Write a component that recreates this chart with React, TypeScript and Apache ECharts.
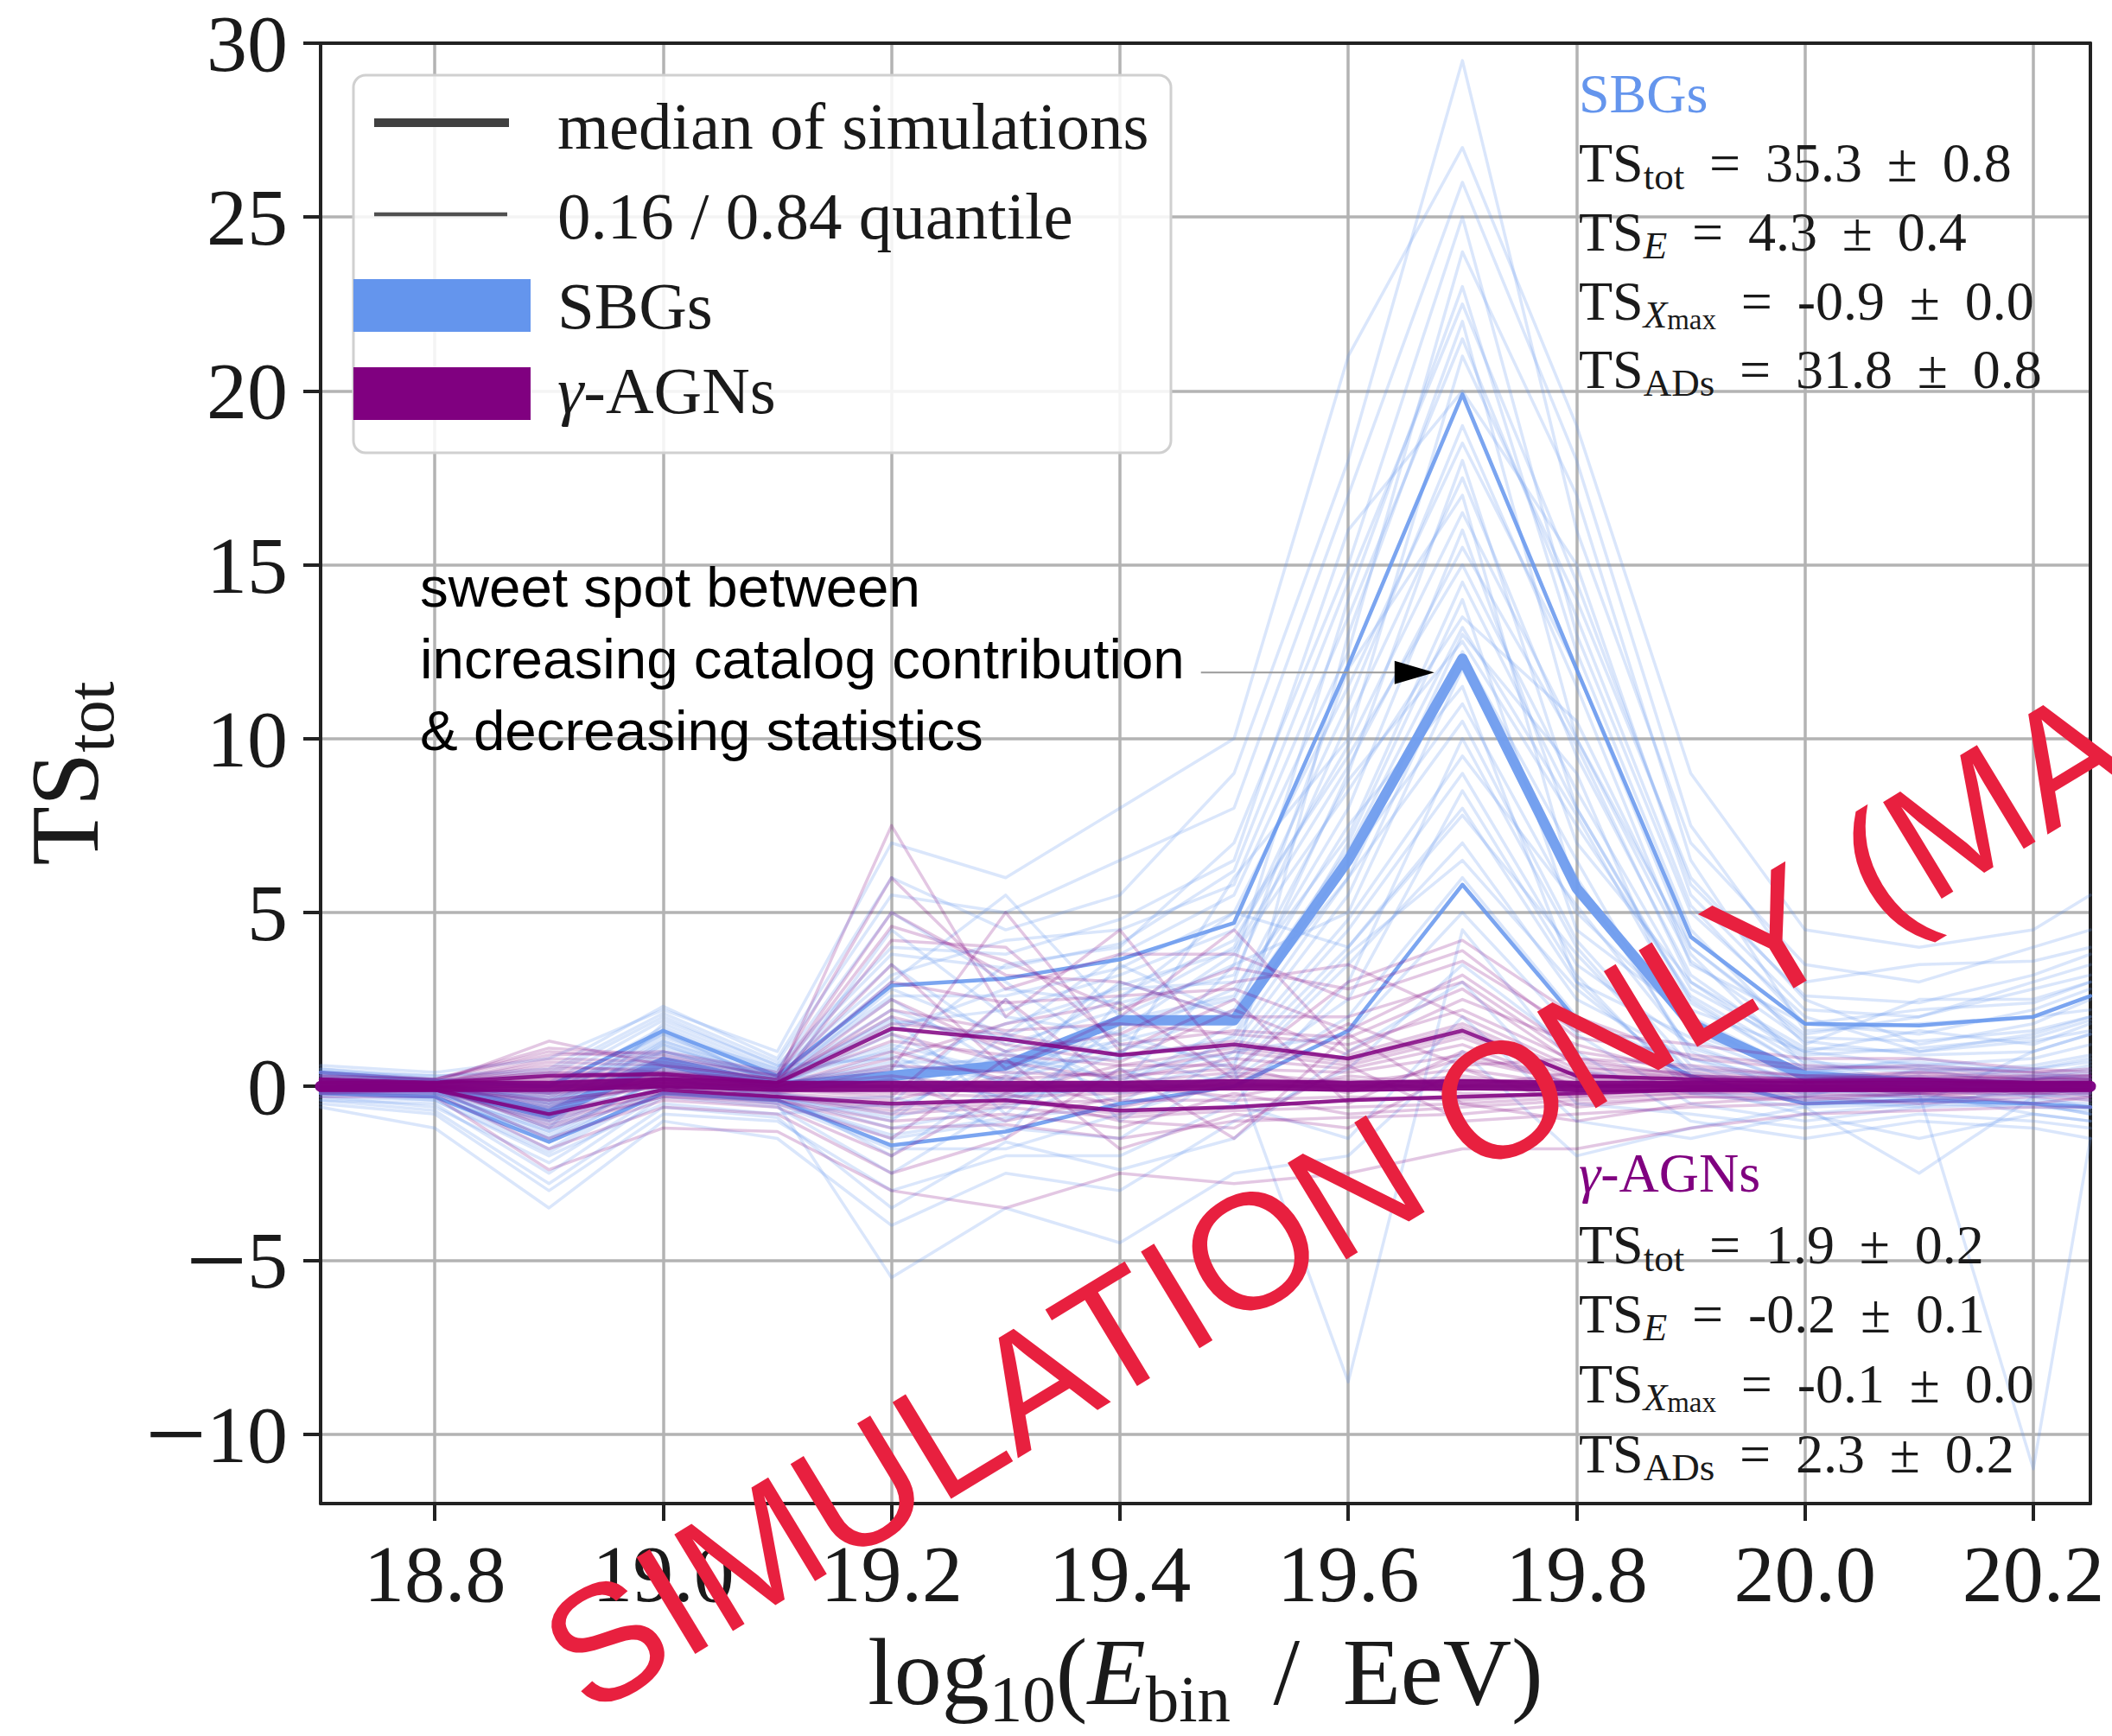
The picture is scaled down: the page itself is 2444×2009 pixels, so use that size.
import React, { useEffect, useRef } from 'react';
import * as echarts from 'echarts';

// ---------------- data ----------------
const xBins = [18.7, 18.8, 18.9, 19.0, 19.1, 19.2, 19.3, 19.4, 19.5, 19.6, 19.7, 19.8, 19.9, 20.0, 20.1, 20.2, 20.25];
const xTickValues = [18.8, 19.0, 19.2, 19.4, 19.6, 19.8, 20.0, 20.2];
const yTickValues = [-10, -5, 0, 5, 10, 15, 20, 25, 30];

const sbgMedian = [0.0, 0.0, -0.8, 0.7, 0.0, 0.3, 0.6, 1.9, 1.9, 6.5, 12.3, 5.7, 1.8, 0.3, 0.1, 0.0, 0.0];
const sbgQ84 = [0.4, 0.15, 0.0, 1.6, 0.3, 2.9, 3.1, 3.65, 4.7, 12.1, 19.9, 12.0, 4.3, 1.8, 1.75, 2.0, 2.6];
const sbgQ16 = [-0.2, -0.3, -1.6, -0.2, -0.4, -1.7, -1.3, -0.5, 0.0, 1.6, 5.8, 1.9, 0.3, -0.5, -0.4, -0.5, -0.6];

const agnMedian = [0.0, 0.0, 0.0, 0.1, 0.0, 0.0, 0.0, 0.0, 0.05, 0.0, 0.05, 0.0, 0.0, 0.0, 0.0, 0.0, 0.0];
const agnQ84 = [0.2, 0.1, 0.3, 0.35, 0.1, 1.66, 1.35, 0.9, 1.2, 0.8, 1.6, 0.3, 0.2, 0.15, 0.2, 0.1, 0.1];
const agnQ16 = [-0.1, -0.1, -0.8, -0.1, -0.3, -0.5, -0.4, -0.7, -0.6, -0.4, -0.3, -0.2, -0.1, -0.1, -0.1, -0.1, -0.1];

const sbgSims = [
  [0.3, 0.1, -0.8, 1.0, 0.2, 2.5, 0.5, 3.0, 2.0, 9.0, 18.0, 8.0, 2.5, 0.5, 0.2, 0.5, 0.8],
  [-0.2, -0.1, -1.5, 0.3, -0.3, -1.0, 1.5, 0.0, 3.5, 5.0, 12.0, 6.0, 1.0, -0.3, 0.5, 0.0, -0.2],
  [0.1, 0.0, -0.4, 1.6, 0.0, 4.5, 2.0, 1.5, 0.5, 13.0, 22.0, 10.0, 4.0, 1.5, 2.0, 3.0, 3.5],
  [0.5, 0.2, 0.3, 2.0, 0.6, 0.8, -1.5, 2.5, 5.0, 4.0, 8.0, 3.0, 0.0, -0.8, -0.5, 1.0, 1.5],
  [-0.4, -0.5, -2.5, -0.3, -0.6, -2.5, -0.5, 1.0, 0.0, 2.0, 6.0, 2.0, 0.5, 0.2, -0.3, -0.5, -0.8],
  [0.2, 0.1, -0.2, 0.8, 0.3, 1.0, 3.5, 4.0, 7.0, 15.0, 25.0, 13.0, 5.0, 2.0, 1.0, 1.5, 2.0],
  [0.0, -0.2, -1.0, 0.5, -0.1, 0.0, 0.8, -0.5, 1.5, 7.0, 14.0, 4.5, 2.0, 0.0, 0.3, -0.3, 0.0],
  [-0.6, -1.2, -3.5, -1.0, -1.5, -4.0, -2.5, -3.0, -1.0, 0.5, 3.5, 1.0, -1.0, -1.5, -1.0, -1.2, -1.5],
  [0.4, 0.3, 0.5, 2.3, 0.8, 6.0, 4.5, 5.5, 9.0, 18.0, 29.5, 16.0, 7.0, 3.5, 3.0, 4.0, 4.5],
  [0.1, 0.0, -0.6, 1.2, 0.1, 2.0, -0.8, 1.8, 2.5, 8.0, 16.0, 7.0, 3.0, 0.8, 0.0, 0.2, 0.5],
  [-0.1, -0.3, -1.8, 0.0, -0.4, -1.5, -1.0, 0.5, -0.5, 3.0, 10.0, 4.0, 0.3, -0.5, -0.2, -0.8, -1.0],
  [0.2, 0.0, -0.3, 1.4, 0.4, 3.5, 1.2, 2.2, 4.0, 11.0, 19.0, 11.5, 3.5, 1.8, 1.5, 2.2, 2.8],
  [-0.3, -0.4, -2.0, -0.5, -0.8, -0.5, 2.5, -1.0, 1.0, 1.5, 5.0, 1.5, -0.5, -1.0, -0.6, 0.0, -0.3],
  [0.0, 0.1, -0.5, 0.7, 0.0, 1.5, 0.0, 3.5, 2.0, 6.0, 13.0, 9.0, 1.5, 0.4, 0.8, 0.4, 0.2],
  [0.3, 0.0, -1.2, 1.8, 0.5, 5.0, 3.0, 0.8, 6.0, 10.0, 21.0, 14.0, 6.0, 2.5, 1.2, 1.8, 2.5],
  [-0.2, -0.2, -1.3, 0.2, -0.2, -2.0, 0.3, 1.2, 0.8, 4.5, 9.0, 3.5, 1.2, 0.0, -0.4, -0.2, -0.4],
  [0.1, 0.2, 0.0, 1.0, 0.2, 0.5, 1.8, 2.8, 3.0, 12.0, 17.0, 5.5, 2.2, 1.0, 0.6, 0.8, 1.2],
  [-0.5, -0.8, -3.0, -0.8, -1.0, -3.0, -2.0, -2.0, -0.5, -1.5, 2.0, -1.0, -1.5, -0.8, -1.5, -0.8, -1.0],
  [0.2, 0.1, -0.7, 1.3, 0.3, 3.0, 5.5, 2.0, 3.5, 14.0, 23.0, 12.5, 4.5, 1.2, 2.5, 2.5, 3.0],
  [0.0, -0.1, -0.9, 0.6, 0.0, 0.2, -0.3, 0.0, 1.8, 6.5, 11.0, 5.0, 1.8, 0.3, 0.1, -0.1, 0.0],
  [0.6, 0.4, 0.8, 2.2, 1.0, 7.0, 6.0, 8.0, 10.0, 21.0, 27.0, 19.0, 9.0, 4.5, 4.0, 4.5, 5.5],
  [-0.1, 0.0, -1.1, 0.4, -0.2, -0.8, 1.0, -0.2, 0.3, 3.5, 7.0, 2.5, 0.8, 0.1, 0.2, -0.2, -0.1],
  [0.2, 0.0, -0.2, 1.5, 0.1, 1.8, 2.2, 3.2, 4.5, 9.5, 15.0, 8.5, 2.8, 1.0, 1.6, 1.2, 1.8],
  [-0.3, -0.6, -2.2, -0.2, -0.5, -5.5, -3.5, -4.5, -2.5, -2.0, 1.0, -2.0, -1.2, -0.6, -2.5, -0.3, -0.6],
  [0.1, 0.0, -0.6, 0.9, 0.2, 1.2, 0.4, 1.6, 3.8, 8.5, 13.5, 10.5, 3.8, 0.6, 0.4, 0.6, 0.9],
  [0.0, -0.1, -1.6, 0.1, -0.3, -1.2, -0.6, 0.3, 1.2, 5.5, 12.5, 6.5, 0.8, -0.2, 0.0, 0.2, 0.3],
  [0.4, 0.2, 0.1, 1.9, 0.6, 4.0, 3.8, 4.8, 6.5, 16.0, 20.0, 15.0, 5.5, 2.2, 2.0, 2.8, 3.2],
  [-0.2, -0.3, -1.4, 0.3, -0.4, -0.3, -1.2, -1.5, 0.5, -8.5, 4.5, 0.5, -0.2, -0.3, -0.2, -11.0, -1.5],
  [0.0, 0.1, -0.4, 0.8, 0.1, 2.8, 1.5, 3.8, 5.5, 12.5, 24.0, 17.0, 6.5, 1.6, 1.8, 2.0, 2.2],
  [-0.1, -0.2, -0.8, 0.6, -0.1, 0.6, 0.2, 1.0, 2.2, 7.5, 11.5, 3.0, 1.4, 0.2, -0.1, 0.3, 0.1],
  [0.2, 0.1, -0.5, 1.1, 0.3, 1.6, 2.8, 2.4, 3.2, 10.5, 17.5, 9.5, 3.2, 0.9, 1.1, 1.4, 1.9],
  [-0.1, -0.2, -1.2, 0.4, -0.2, -0.6, 0.6, 0.8, 1.4, 6.0, 10.5, 4.2, 0.6, -0.4, -0.3, -0.4, -0.5],
  [0.3, 0.2, -0.1, 1.7, 0.4, 3.2, 4.2, 4.5, 5.8, 13.5, 21.5, 13.5, 5.2, 1.8, 2.2, 2.4, 3.0],
  [0.0, -0.1, -0.9, 0.7, 0.0, 0.9, -0.4, 1.4, 2.8, 7.2, 14.5, 8.0, 2.4, 0.5, 0.7, 0.3, 0.6],
  [-0.2, -0.4, -1.9, -0.1, -0.5, -1.8, -1.8, -0.8, 0.2, 2.5, 8.5, 3.2, -0.2, -0.6, -0.5, -0.6, -0.7],
  [0.1, 0.0, -0.3, 1.3, 0.2, 2.2, 1.0, 2.6, 4.2, 9.8, 16.5, 10.0, 3.6, 1.3, 0.9, 1.0, 1.5],
  [0.5, 0.3, 0.4, 2.1, 0.7, 5.5, 5.0, 6.5, 8.0, 17.0, 26.0, 18.0, 7.5, 3.0, 3.5, 3.6, 4.0],
  [0.0, 0.0, -0.7, 0.5, -0.1, 0.4, 0.9, 0.2, 1.0, 4.8, 9.5, 5.2, 1.1, 0.1, 0.0, 0.1, 0.2],
  [-0.4, -0.7, -2.8, -0.6, -0.9, -3.5, -1.6, -2.4, -1.5, 1.0, 3.0, -0.5, -0.8, -1.2, -0.8, -1.0, -1.2],
  [0.2, 0.1, -0.4, 1.0, 0.3, 2.6, 2.6, 3.4, 5.0, 11.5, 18.5, 12.0, 4.0, 1.4, 1.3, 1.6, 2.0],
  [0.1, 0.0, -1.0, 0.8, 0.1, 1.1, 0.1, 1.9, 2.6, 8.8, 12.8, 7.5, 2.6, 0.7, 0.5, 0.5, 0.7],
  [-0.1, -0.2, -1.3, 0.2, -0.3, -0.9, -0.2, -0.1, 0.7, 4.0, 7.8, 3.8, 0.4, -0.2, -0.1, -0.3, -0.2],
  [0.3, 0.1, -0.2, 1.5, 0.5, 3.8, 3.4, 4.1, 6.2, 14.5, 22.5, 14.5, 5.8, 2.6, 2.4, 3.2, 3.8],
  [0.0, -0.1, -0.6, 0.6, 0.0, 0.7, 0.7, 1.3, 2.1, 6.8, 13.2, 7.8, 2.0, 0.4, 0.6, 0.2, 0.4],
  [0.2, 0.0, -0.5, 1.2, 0.2, 1.9, 1.4, 2.9, 3.9, 9.2, 15.5, 9.8, 3.0, 1.1, 1.0, 1.3, 1.6],
  [-0.2, -0.3, -1.5, 0.0, -0.4, -1.4, -0.9, -0.6, 0.4, 3.8, 6.5, 2.8, 0.2, -0.4, -0.6, -0.5, -0.8],
];

const agnSims = [
  [0.1, 0.0, 0.3, 0.3, 0.1, 1.8, 1.5, 0.9, 1.3, 0.8, 1.7, 0.3, 0.2, 0.1, 0.2, 0.1, 0.1],
  [-0.1, -0.1, -0.8, -0.1, -0.3, -0.6, -0.4, -0.8, -0.6, -0.4, -0.3, -0.2, -0.1, -0.1, -0.1, -0.1, -0.1],
  [0.2, 0.1, 1.3, 0.6, 0.2, 7.5, 2.0, 4.5, 0.5, 3.0, 4.2, 2.0, 0.8, 0.5, 0.6, 0.4, 0.5],
  [0.0, 0.0, -0.3, 0.2, -0.1, 0.5, 5.0, 1.0, 2.5, -0.5, 1.0, 0.0, 0.1, 0.0, -0.2, 0.0, 0.0],
  [-0.2, -0.2, -1.8, -0.6, -0.8, -2.5, -1.5, 0.5, -1.5, 1.5, -0.5, -1.0, -0.5, -0.3, -0.5, -0.3, -0.4],
  [0.1, 0.1, 0.6, 0.4, 0.2, 3.5, 0.5, 2.0, 4.5, 1.0, 2.5, 1.2, 0.3, 0.2, 0.4, 0.2, 0.3],
  [0.0, -0.1, -0.4, 0.0, -0.2, 0.2, -1.0, -0.3, 0.3, 0.0, 0.3, -0.1, 0.0, -0.1, 0.0, -0.2, -0.1],
  [0.3, 0.2, 1.0, 0.8, 0.3, 5.0, 3.2, 3.0, 2.0, 2.0, 3.0, 0.8, 0.6, 0.3, 0.2, 0.3, 0.2],
  [-0.1, 0.0, -1.2, -0.3, -0.5, -1.5, 0.8, -1.8, -0.8, -1.2, 0.5, -0.6, -0.3, -0.4, -0.2, -0.5, -0.3],
  [0.1, 0.0, 0.1, 0.3, 0.0, 1.0, 0.2, 0.4, 1.0, 0.6, 1.4, 0.2, 0.1, 0.1, 0.1, 0.0, 0.1],
  [0.0, 0.0, -0.6, 0.1, -0.1, -0.3, 2.5, 0.0, -0.3, 0.3, 0.0, 0.4, 0.0, 0.0, 0.0, 0.1, 0.0],
  [-0.3, -0.3, -2.4, -1.2, -1.3, -3.0, -3.5, -2.5, -2.8, -2.5, -1.8, -1.8, -1.2, -0.8, -0.7, -0.6, -0.6],
  [0.2, 0.1, 0.5, 0.5, 0.1, 2.5, 1.0, 1.5, 3.0, 3.5, 2.0, 0.5, 0.4, 0.2, 0.3, 0.2, 0.2],
  [0.0, 0.0, -0.2, 0.2, 0.0, 0.0, -0.2, 0.6, 0.6, -0.2, 0.8, 0.1, 0.0, 0.0, 0.0, 0.0, 0.0],
  [-0.1, -0.1, -1.0, -0.2, -0.4, -1.0, -0.8, -1.2, -0.2, -0.8, -0.6, -0.4, -0.2, -0.2, -0.3, -0.1, -0.2],
  [0.1, 0.1, 0.2, 0.4, 0.1, 4.2, 4.0, 1.2, 1.6, 1.4, 2.8, 0.6, 0.2, 0.1, 0.2, 0.1, 0.1],
  [0.0, 0.0, -0.5, 0.0, -0.2, -0.4, 0.3, -0.6, 0.0, 0.2, -0.2, -0.3, 0.0, 0.0, -0.1, 0.0, -0.1],
  [0.4, 0.2, 0.9, 1.0, 0.4, 6.0, 2.8, 3.8, 3.8, 2.5, 3.6, 1.6, 1.2, 0.8, 0.8, 0.5, 0.4],
  [-0.2, -0.1, -1.5, -0.4, -0.6, -2.0, -0.2, -1.0, -1.2, 0.6, -1.0, -0.8, -0.6, -0.5, -0.4, -0.2, -0.3],
  [0.1, 0.0, 0.0, 0.2, 0.1, 1.5, 0.7, 0.2, 0.8, 0.5, 1.2, 0.0, 0.1, 0.0, 0.1, 0.1, 0.0],
  [0.0, 0.1, 0.4, 0.3, 0.0, 0.8, 1.8, 2.4, 0.2, 1.8, 0.6, 0.8, 0.3, 0.1, 0.2, 0.0, 0.1],
  [-0.1, -0.1, -0.7, -0.1, -0.3, -0.7, -0.5, -0.4, -0.4, -0.3, -0.4, -0.2, -0.1, -0.1, -0.1, -0.1, -0.1],
  [0.2, 0.1, 0.7, 0.6, 0.2, 2.0, 1.2, 0.7, 2.2, 0.9, 1.8, 0.4, 0.3, 0.2, 0.3, 0.2, 0.2],
  [0.0, 0.0, -0.1, 0.1, 0.0, 0.3, -0.1, 0.1, 0.4, 0.1, 0.5, 0.0, 0.0, 0.0, 0.0, 0.0, 0.0],
  [0.1, 0.1, 0.4, 0.4, 0.1, 2.2, 1.6, 1.8, 1.5, 1.2, 2.2, 0.7, 0.3, 0.2, 0.2, 0.2, 0.2],
  [-0.1, 0.0, -0.9, -0.2, -0.3, -0.8, -0.6, -0.9, -0.7, -0.6, -0.5, -0.3, -0.2, -0.1, -0.2, -0.1, -0.1],
  [0.2, 0.1, 0.8, 0.7, 0.2, 3.0, 2.4, 2.6, 2.8, 1.6, 3.2, 1.0, 0.5, 0.3, 0.4, 0.3, 0.3],
  [0.0, 0.0, -0.2, 0.1, 0.0, 0.6, 0.4, 0.3, 0.5, 0.4, 0.9, 0.2, 0.1, 0.0, 0.1, 0.0, 0.0],
  [-0.1, -0.1, -1.1, -0.3, -0.4, -1.2, -1.1, -1.5, -1.0, -0.9, -0.8, -0.5, -0.3, -0.3, -0.2, -0.2, -0.2],
  [0.1, 0.0, 0.2, 0.3, 0.1, 1.3, 0.9, 0.6, 1.1, 0.7, 1.5, 0.3, 0.2, 0.1, 0.1, 0.1, 0.1],
  [0.3, 0.2, 1.1, 0.9, 0.3, 4.6, 3.6, 2.2, 3.4, 2.8, 3.9, 1.4, 0.9, 0.6, 0.5, 0.4, 0.3],
  [0.0, 0.0, -0.4, 0.0, -0.1, -0.2, -0.3, -0.2, 0.1, -0.1, 0.2, 0.0, 0.0, 0.0, 0.0, 0.0, 0.0],
];

// annotation arrow (data coordinates)
const arrowStart = [19.471, 11.9];
const arrowHead = [19.658, 11.9];

const annotationLines = ['sweet spot between', 'increasing catalog contribution', '& decreasing statistics'];
const legendLabels = ['median of simulations', '0.16 / 0.84 quantile', 'SBGs', 'γ-AGNs'];

// stats rows: [subscript token, value, error]
const sbgStats = [
  ['tot', '35.3', '0.8'],
  ['E', '4.3', '0.4'],
  ['Xmax', '-0.9', '0.0'],
  ['ADs', '31.8', '0.8'],
];
const agnStats = [
  ['tot', '1.9', '0.2'],
  ['E', '-0.2', '0.1'],
  ['Xmax', '-0.1', '0.0'],
  ['ADs', '2.3', '0.2'],
];

const watermark = 'SIMULATION ONLY (MA';

// ---------------- styling ----------------
const W = 2444;
const H = 2009;
const SBG = '#6495ED';
const AGN = '#800080';
const SERIF = 'Liberation Serif';
const SANS = 'Liberation Sans';
const INK = '#1a1a1a';
const GAP = ' \u2009';

const pts = (arr: number[]) => xBins.map((x, i) => [x, arr[i]]);

function lineSeries(name: string, arr: number[], color: string, width: number, opacity: number, z: number) {
  return {
    type: 'line',
    name,
    data: pts(arr),
    symbol: 'none',
    silent: true,
    animation: false,
    z,
    emphasis: { disabled: true },
    lineStyle: { color, width, opacity, cap: 'round', join: 'round' },
  };
}

// rich styles for graphic text (zrender style -> "fill")
function statRich(color: string) {
  return {
    m: { fontFamily: SERIF, fontSize: 64, lineHeight: 70, verticalAlign: 'top', fill: color },
    s: { fontFamily: SERIF, fontSize: 45, lineHeight: 44, verticalAlign: 'bottom', fill: color },
    si: { fontFamily: SERIF, fontSize: 45, lineHeight: 44, verticalAlign: 'bottom', fontStyle: 'italic', fill: color },
    ss: { fontFamily: SERIF, fontSize: 33, lineHeight: 20, verticalAlign: 'bottom', fill: color },
    mi: { fontFamily: SERIF, fontSize: 64, lineHeight: 70, verticalAlign: 'top', fontStyle: 'italic', fill: color },
  };
}

function statText(row: string[]) {
  const [sub, v, e] = row;
  let subPart = '';
  if (sub === 'E') subPart = '{si|E}';
  else if (sub === 'Xmax') subPart = '{si|X}{ss|max}';
  else subPart = `{s|${sub}}`;
  return `{m|TS}${subPart}{m|${GAP}=${GAP}${v}${GAP}±${GAP}${e}}`;
}

function statBlock(title: string, rows: string[][], color: string, topCenter: number, rowCenters: number[]) {
  const x = 1827;
  const els: any[] = [];
  els.push({
    type: 'text',
    x,
    y: topCenter - 35,
    z: 50,
    style: { text: title, rich: statRich(color), align: 'left', verticalAlign: 'top' },
  });
  rows.forEach((r, i) => {
    els.push({
      type: 'text',
      x,
      y: rowCenters[i] - 35,
      z: 50,
      style: { text: statText(r), rich: statRich(INK), align: 'left', verticalAlign: 'top' },
    });
  });
  return els;
}

export default function App() {
  const ref = useRef<HTMLDivElement>(null);

  useEffect(() => {
    if (!ref.current) return;
    const chart = echarts.init(ref.current, null, { renderer: 'svg', width: W, height: H });

    const series: any[] = [];
    sbgSims.forEach((s, i) => series.push(lineSeries('SBG sim ' + (i + 1), s, SBG, 3.5, 0.24, 2)));
    series.push(lineSeries('SBG 0.16 quantile', sbgQ16, SBG, 4.5, 0.85, 3));
    series.push(lineSeries('SBG 0.84 quantile', sbgQ84, SBG, 4.5, 0.85, 3));
    series.push(lineSeries('SBG median', sbgMedian, '#6f9cee', 12, 0.95, 3));
    agnSims.forEach((s, i) => series.push(lineSeries('γ-AGN sim ' + (i + 1), s, AGN, 3.5, 0.22, 4)));
    series.push(lineSeries('γ-AGN 0.16 quantile', agnQ16, AGN, 4.5, 0.85, 5));
    series.push(lineSeries('γ-AGN 0.84 quantile', agnQ84, AGN, 4.5, 0.85, 5));
    series.push(lineSeries('γ-AGN median', agnMedian, AGN, 13, 0.95, 5));
    series.push({
      type: 'line',
      name: 'annotation arrow',
      silent: true,
      z: 20,
      emphasis: { disabled: true },
      lineStyle: { color: '#9a9a9a', width: 2 },
      symbol: 'none',
      showSymbol: true,
      data: [
        { value: arrowStart, symbol: 'none' },
        {
          value: arrowHead,
          symbol: 'triangle',
          symbolRotate: -90,
          symbolSize: [27, 46],
          itemStyle: { color: '#000' },
        },
      ],
    });

    const yFmt = (v: number) => (v < 0 ? `{mn|\u2212}{n|${Math.abs(v)}}` : `{n|${v}}`);

    const legendTextStyle = { fontFamily: SERIF, fontSize: 77, fill: INK, align: 'left', verticalAlign: 'middle' };

    const graphic: any[] = [
      // legend
      {
        type: 'rect',
        z: 40,
        shape: { x: 409, y: 87, width: 946, height: 437, r: 14 },
        style: { fill: 'rgba(255,255,255,0.85)', stroke: '#d0d0d0', lineWidth: 3 },
      },
      { type: 'line', z: 41, shape: { x1: 433, y1: 142, x2: 589, y2: 142 }, style: { stroke: '#404040', lineWidth: 10 } },
      { type: 'line', z: 41, shape: { x1: 433, y1: 248, x2: 587, y2: 248 }, style: { stroke: '#505050', lineWidth: 4.5 } },
      { type: 'rect', z: 41, shape: { x: 409, y: 323, width: 205, height: 61 }, style: { fill: SBG } },
      { type: 'rect', z: 41, shape: { x: 409, y: 425, width: 205, height: 61 }, style: { fill: AGN } },
      { type: 'text', z: 42, x: 645, y: 146, style: { ...legendTextStyle, text: legendLabels[0] } },
      { type: 'text', z: 42, x: 645, y: 250, style: { ...legendTextStyle, text: legendLabels[1] } },
      { type: 'text', z: 42, x: 645, y: 354, style: { ...legendTextStyle, text: legendLabels[2] } },
      {
        type: 'text',
        z: 42,
        x: 645,
        y: 452,
        style: {
          text: '{i|γ}{r|-AGNs}',
          align: 'left',
          verticalAlign: 'middle',
          rich: {
            i: { fontFamily: SERIF, fontSize: 77, fontStyle: 'italic', fill: INK },
            r: { fontFamily: SERIF, fontSize: 77, fill: INK },
          },
        },
      },
      // annotation text
      {
        type: 'text',
        z: 30,
        x: 486,
        y: 638,
        style: {
          text: annotationLines.join('\n'),
          fontFamily: SANS,
          fontSize: 65.5,
          lineHeight: 83,
          fill: '#000',
          align: 'left',
          verticalAlign: 'top',
        },
      },
      ...statBlock('{m|SBGs}', sbgStats, SBG, 111, [191, 271, 351, 430]),
      ...statBlock('{mi|γ}{m|-AGNs}', agnStats, AGN, 1360, [1443, 1523, 1604, 1685]),
      // watermark
      {
        type: 'text',
        z: 100,
        x: 1545,
        y: 1388,
        rotation: 0.545,
        style: {
          text: watermark,
          fontFamily: SANS,
          fontSize: 190,
          fill: '#e8203f',
          align: 'center',
          verticalAlign: 'middle',
        },
      },
    ];

    const axisLineStyle = { color: '#222', width: 4 };

    const option: any = {
      animation: false,
      backgroundColor: '#ffffff',
      grid: { left: 371, top: 50, width: 2048, height: 1693, containLabel: false },
      xAxis: [
        {
          type: 'value',
          min: 18.7,
          max: 20.25,
          position: 'bottom',
          name: `{a|log}{s|10}{a|(}{i|E}{s|bin}{a|${GAP}/${GAP}EeV)}`,
          nameLocation: 'middle',
          nameGap: 140,
          nameTextStyle: {
            rich: {
              a: { fontFamily: SERIF, fontSize: 110, lineHeight: 124, verticalAlign: 'top', color: INK },
              i: { fontFamily: SERIF, fontSize: 110, lineHeight: 124, verticalAlign: 'top', fontStyle: 'italic', color: INK },
              s: { fontFamily: SERIF, fontSize: 77, lineHeight: 73, verticalAlign: 'bottom', color: INK },
            },
          },
          axisLine: { show: true, onZero: false, lineStyle: axisLineStyle },
          axisTick: { show: true, inside: false, length: 20, lineStyle: { color: '#222', width: 4 }, customValues: xTickValues },
          axisLabel: {
            show: true,
            margin: 34,
            fontFamily: SERIF,
            fontSize: 94,
            color: INK,
            customValues: xTickValues,
            formatter: (v: number) => v.toFixed(1),
          },
          splitLine: { show: true, lineStyle: { color: '#b3b3b3', width: 3.5 } },
        },
        {
          type: 'value',
          min: 18.7,
          max: 20.25,
          position: 'top',
          axisLine: { show: true, onZero: false, lineStyle: axisLineStyle },
          axisTick: { show: false },
          axisLabel: { show: false },
          splitLine: { show: false },
        },
      ],
      yAxis: [
        {
          type: 'value',
          min: -12,
          max: 30,
          position: 'left',
          name: '{a|TS}{s|tot}',
          nameLocation: 'middle',
          nameGap: 228,
          nameTextStyle: {
            rich: {
              a: { fontFamily: SERIF, fontSize: 112, lineHeight: 124, verticalAlign: 'top', color: INK },
              s: { fontFamily: SERIF, fontSize: 78, lineHeight: 73, verticalAlign: 'bottom', color: INK },
            },
          },
          axisLine: { show: true, onZero: false, lineStyle: axisLineStyle },
          axisTick: { show: true, inside: false, length: 20, lineStyle: { color: '#222', width: 4 }, customValues: yTickValues },
          axisLabel: {
            show: true,
            margin: 38,
            color: INK,
            customValues: yTickValues,
            formatter: yFmt,
            rich: {
              mn: { fontFamily: SERIF, fontSize: 126, color: INK, lineHeight: 100 },
              n: { fontFamily: SERIF, fontSize: 94, color: INK, lineHeight: 100 },
            },
          },
          splitLine: { show: true, lineStyle: { color: '#b3b3b3', width: 3.5 } },
        },
        {
          type: 'value',
          min: -12,
          max: 30,
          position: 'right',
          axisLine: { show: true, onZero: false, lineStyle: axisLineStyle },
          axisTick: { show: false },
          axisLabel: { show: false },
          splitLine: { show: false },
        },
      ],
      series,
      graphic,
    };

    chart.setOption(option);
    return () => chart.dispose();
  }, []);

  return (
    <div
      ref={ref}
      style={{ position: 'absolute', left: 0, top: 0, width: W, height: H, background: '#ffffff' }}
    />
  );
}
